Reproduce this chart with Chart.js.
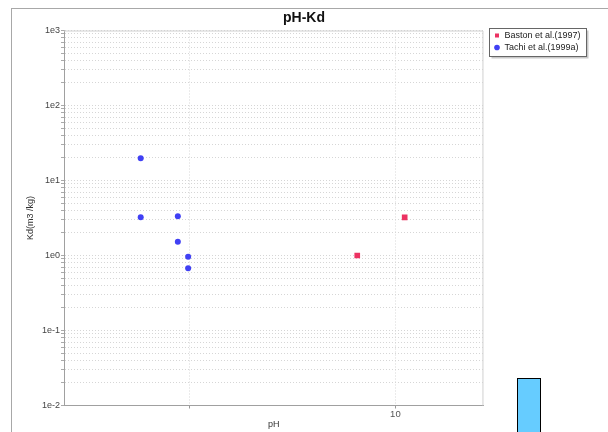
<!DOCTYPE html>
<html><head><meta charset="utf-8">
<script src="https://cdn.jsdelivr.net/npm/chart.js@4/dist/chart.umd.min.js"></script>
<style>
html,body{margin:0;padding:0;background:#fff;}
#wrap{position:relative;width:608px;height:432px;overflow:hidden;}
#c{position:absolute;left:0;top:0;}
#frame{position:absolute;left:11px;top:8px;width:597px;height:424px;border-left:1px solid #a8a8a8;border-top:1px solid #a8a8a8;box-sizing:border-box;pointer-events:none;}
#bar{position:absolute;left:517px;top:378px;width:24px;height:60px;background:#66ccff;border:1px solid #000;box-sizing:border-box;}
</style></head>
<body><div id="wrap"><canvas id="c" width="608" height="432"></canvas><div id="frame"></div><div id="bar"></div></div>
<script>
const chartTitle = 'pH-Kd';
const xTitle = 'pH';
const yTitle = 'Kd(m3 /kg)';
const seriesNames = ['Baston et al.(1997)', 'Tachi et al.(1999a)'];
const bastonPH = [9.63, 10.09];
const bastonKd = [1.0, 3.23];
const tachiPH = [7.53, 7.53, 7.89, 7.89, 7.99, 7.99];
const tachiKd = [19.8, 3.23, 3.33, 1.53, 0.96, 0.675];
const xTicks = [8, 10];
const xTickLabels = ['', '10'];
const yDecades = [-2, -1, 0, 1, 2, 3];
const yTickLabels = ['1e-2', '1e-1', '1e0', '1e1', '1e2', '1e3'];

const FONT = "'Liberation Sans', Arial, sans-serif";
const toPts = (xs, ys) => xs.map((x, i) => ({x: x, y: ys[i]}));

const placer = {
  id: 'placer',
  afterLayout(chart) {
    const lg = chart.legend;
    if (lg) {
      const w = lg.right - lg.left, h = lg.bottom - lg.top;
      lg.left = 491; lg.right = 491 + w; lg.top = 28; lg.bottom = 28 + h;
    }
    const t = chart.titleBlock;
    if (t) { t.left = 0; t.right = 608; t.width = 608; }
  },
  beforeDatasetsDraw(chart) {
    const a = chart.chartArea, ctx = chart.ctx;
    ctx.save();
    ctx.strokeStyle = '#d0d0d0'; ctx.lineWidth = 1;
    ctx.beginPath();
    ctx.moveTo(a.left, a.top + 0.5); ctx.lineTo(a.right - 0.5, a.top + 0.5); ctx.lineTo(a.right - 0.5, a.bottom);
    ctx.stroke();
    ctx.restore();
  },
  afterDraw(chart) {
    const hb = chart.legend && chart.legend.legendHitBoxes;
    if (!hb || !hb.length) return;
    let l = Infinity, t = Infinity, r = -Infinity, b = -Infinity;
    hb.forEach(h => { l = Math.min(l, h.left); t = Math.min(t, h.top); r = Math.max(r, h.left + h.width); b = Math.max(b, h.top + h.height); });
    l = Math.round(l - 5) + 0.5; t = Math.round(t - 3) + 0.5; r = Math.round(r + 5) + 0.5; b = Math.round(b + 4) + 0.5;
    const ctx = chart.ctx;
    ctx.save();
    ctx.strokeStyle = '#c8c8c8'; ctx.lineWidth = 2;
    ctx.beginPath(); ctx.moveTo(l + 2, b + 1); ctx.lineTo(r + 1, b + 1); ctx.lineTo(r + 1, t + 2); ctx.stroke();
    ctx.strokeStyle = '#666'; ctx.lineWidth = 1;
    ctx.strokeRect(l, t, r - l, b - t);
    ctx.restore();
  }
};

new Chart(document.getElementById('c'), {
  type: 'scatter',
  data: {
    datasets: [
      {label: seriesNames[0], data: toPts(bastonPH, bastonKd), pointStyle: 'rect', pointRadius: 4, pointHoverRadius: 4,
       backgroundColor: '#ec3262', borderColor: '#ec3262', borderWidth: 0},
      {label: seriesNames[1], data: toPts(tachiPH, tachiKd), pointStyle: 'circle', pointRadius: 3, pointHoverRadius: 3,
       backgroundColor: '#4040f4', borderColor: '#4040f4', borderWidth: 0}
    ]
  },
  options: {
    responsive: false,
    animation: false,
    events: [],
    layout: {padding: {left: 0, right: 25, top: 0, bottom: 0}},
    plugins: {
      tooltip: {enabled: false},
      title: {display: true, text: chartTitle, color: '#111', font: {family: FONT, size: 14, weight: 'bold'}, padding: {top: 10, bottom: 3.7}},
      legend: {
        position: 'right', align: 'start',
        labels: {usePointStyle: true, boxWidth: 6, boxHeight: 4, padding: 3, color: '#222', font: {family: FONT, size: 9}}
      }
    },
    scales: {
      x: {
        type: 'linear', min: 6.786, max: 10.854,
        afterBuildTicks: s => { s.ticks = xTicks.map(v => ({value: v})); },
        afterFit: s => { s.height = 26.5; },
        ticks: {autoSkip: false, padding: 0, color: '#555', font: {family: FONT, size: 9.5},
                callback: v => { const i = xTicks.indexOf(v); return i >= 0 ? xTickLabels[i] : ''; }},
        grid: {color: '#d6d6d6', tickLength: 3, tickColor: '#999'},
        border: {display: true, color: '#a0a0a0', width: 1, dash: [1, 2]},
        title: {display: true, text: xTitle, color: '#333', font: {family: FONT, size: 9}, padding: {top: 0, bottom: 2}}
      },
      y: {
        type: 'logarithmic', min: 0.01, max: 1000,
        afterBuildTicks: s => {
          const t = [];
          yDecades.forEach(e => {
            for (let m = 1; m <= 9; m++) {
              const v = m * Math.pow(10, e);
              if (v > 1000 * 1.000001) break;
              t.push({value: v, major: m === 1});
            }
          });
          s.ticks = t;
        },
        afterFit: s => { s.width = 64; },
        ticks: {autoSkip: false, padding: 1, color: '#444', font: {family: FONT, size: 9},
                callback: v => {
                  const l = Math.log10(v), r = Math.round(l);
                  if (Math.abs(l - r) < 1e-6) { const i = yDecades.indexOf(r); return i >= 0 ? yTickLabels[i] : ''; }
                  return '';
                }},
        grid: {color: '#d6d6d6', tickLength: 3, tickColor: '#aaa'},
        border: {display: true, color: '#a0a0a0', width: 1, dash: [1, 2]},
        title: {display: true, text: yTitle, color: '#333', font: {family: FONT, size: 9}, padding: {top: 25, bottom: 0}}
      }
    }
  },
  plugins: [placer]
});
</script>
</body></html>
